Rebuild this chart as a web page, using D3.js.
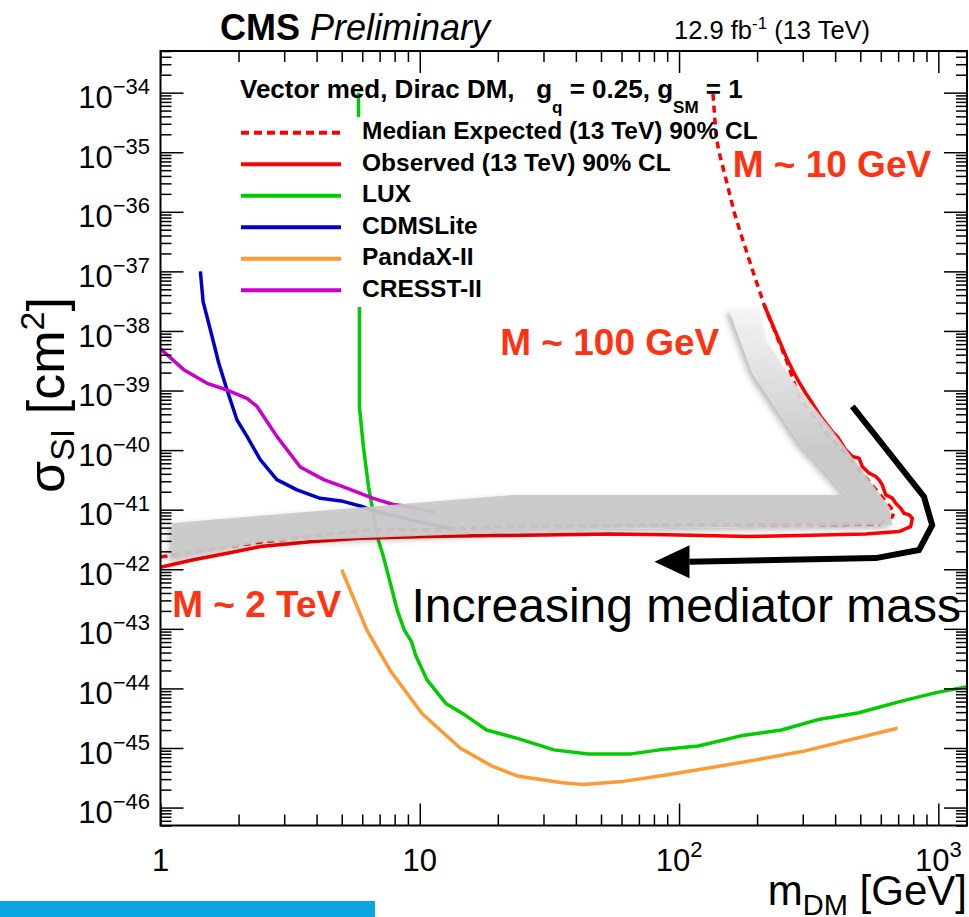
<!DOCTYPE html>
<html>
<head>
<meta charset="utf-8">
<script src="https://cdn.jsdelivr.net/npm/d3@7"></script>
<style>
  body { margin: 0; background: #fff; }
  svg { display: block; font-family: 'Liberation Sans', Arial, Helvetica, sans-serif; }
</style>
</head>
<body>
<svg id="chart" width="969" height="917"></svg>
<script>
// all curves: [m_DM in GeV, sigma_SI in cm^2]
const observed = [
  [1.0, 1.08e-42], [1.34, 1.44e-42], [1.81, 1.86e-42], [2.43, 2.4e-42], [3.78, 2.9e-42],
  [5.89, 3.3e-42], [10.6, 3.55e-42], [19.2, 3.67e-42], [34.6, 3.8e-42], [54, 3.9e-42],
  [89, 3.8e-42], [187, 3.55e-42], [291, 3.67e-42], [525, 3.9e-42], [705, 4.3e-42],
  [782, 5.2e-42], [794, 7.2e-42], [771, 8.2e-42], [737, 8.7e-42], [716, 1.06e-41],
  [685, 1.28e-41], [665, 1.56e-41], [627, 1.77e-41], [608, 2.6e-41], [591, 3.16e-41],
  [574, 3.6e-41], [541, 4.1e-41], [509, 5.3e-41], [495, 7.3e-41], [466, 7.8e-41],
  [440, 1.0e-40], [408, 1.68e-40], [390, 2.04e-40], [352, 3.65e-40], [327, 6.1e-40],
  [308, 9.0e-40], [290, 1.4e-39], [278, 1.95e-39], [262, 3.27e-39], [240, 8.0e-39],
  [213, 2.73e-38]
]
const expected = [
  [1.0, 1.61e-42], [2.49, 2.9e-42], [6.43, 4.6e-42], [12, 4.6e-42], [20.4, 5.2e-42],
  [84, 5.5e-42], [591, 5.7e-42], [665, 7.6e-42], [675, 9.3e-42], [495, 4.7e-41],
  [414, 1.15e-40], [368, 1.92e-40], [347, 2.83e-40], [291, 7.4e-40], [262, 2.9e-39],
  [213, 2.73e-38], [192, 1.05e-37], [176, 3.4e-37], [163.5, 9.5e-37], [152, 3.4e-36],
  [143, 9.6e-36], [139, 1.83e-35], [134.8, 1.11e-34]
]
const lux = [
  [5.80, 1.0e-34], [5.85, 2.6e-38], [5.85, 5.4e-40], [6.06, 1.15e-40], [6.34, 2.45e-41],
  [6.62, 8.7e-42], [6.92, 3.1e-42], [7.24, 1.63e-42], [7.76, 5.1e-43], [8.18, 2.08e-43],
  [8.71, 9.6e-44], [9.29, 6.1e-44], [9.63, 3.65e-44], [10.66, 1.39e-44], [12.6, 5.6e-45],
  [14.9, 3.6e-45], [18.1, 2.0e-45], [23.8, 1.45e-45], [32.9, 9.3e-46], [44.7, 7.96e-46],
  [65.3, 7.96e-46], [84.1, 9.3e-46], [118.6, 1.08e-45], [173, 1.6e-45], [248, 2.0e-45],
  [344, 3.0e-45], [494, 3.9e-45], [709, 6.0e-45], [980, 8.5e-45], [1300, 1.07e-44]
]
const cdmsLite = [
  [1.425, 1.0e-37], [1.44, 6.0e-38], [1.46, 3.1e-38], [1.557, 1.05e-38], [1.677, 2.9e-39],
  [1.806, 1.02e-39], [1.973, 3.2e-40], [2.156, 1.7e-40], [2.425, 6.9e-41], [2.81, 3.2e-41],
  [3.36, 2.15e-41], [4.13, 1.55e-41], [5.06, 1.38e-41], [6.04, 1.12e-41], [6.43, 1.0e-41],
  [9.5, 6.5e-42], [13.7, 4.7e-42]
]
const pandaX = [
  [5.0, 9.8e-43], [6.25, 9.5e-44], [7.75, 1.9e-44], [10.2, 3.8e-45], [14.3, 1.0e-45],
  [19.1, 4.9e-46], [23.8, 3.4e-46], [35.4, 2.6e-46], [42.3, 2.45e-46], [60.8, 2.75e-46],
  [90.4, 3.55e-46], [130, 4.6e-46], [193, 6.2e-46], [298, 8.7e-46], [459, 1.38e-45],
  [696, 2.14e-45]
]
const cresst = [
  [1.0, 5.0e-39], [1.229, 2.24e-39], [1.512, 1.32e-39], [1.806, 1.02e-39], [2.156, 7.4e-40],
  [2.356, 5.4e-40], [2.81, 1.7e-40], [3.46, 5.2e-41], [4.26, 3.2e-41], [5.23, 2.3e-41],
  [6.62, 1.55e-41], [7.9, 1.22e-41], [8.6, 1.17e-41], [11.5, 9.0e-42]
]

const legendLabels = ['Median Expected (13 TeV) 90% CL', 'Observed (13 TeV) 90% CL', 'LUX', 'CDMSLite', 'PandaX-II', 'CRESST-II']

const xTickValues = [1, 10, 100, 1000]
const xTickLabels = [['1', ''], ['10', ''], ['10', '2'], ['10', '3']]
const yTickExponents = d3.range(-46, -33)

// hand drawn overlay from the slide, in data units
const bandOutline = [
  [1.11, 1.44e-42], [2.49, 2.9e-42], [54, 4.8e-42], [663, 5.5e-42], [651, 1.07e-41],
  [389, 2.18e-40], [273, 1.5e-39], [216, 7.1e-39], [204, 2.45e-38], [156, 2.24e-38],
  [161, 1.53e-38], [192, 1.95e-39], [290.7, 1.3e-40], [440, 1.77e-41], [22.8, 1.77e-41],
  [1.11, 6.0e-42]
]
const arrowPath = [[466, 5.4e-40], [880, 1.66e-41], [947, 5.5e-42], [842, 2.1e-42], [574, 1.54e-42], [109.6, 1.34e-42]]
const arrowTip = [80.4, 1.34e-42]
const massLabels = [
  { text: 'M ~ 10 GeV', at: [161, 3.85e-36], anchor: 'start' },
  { text: 'M ~ 100 GeV', at: [143, 4.0e-39], anchor: 'end' },
  { text: 'M ~ 2 TeV', at: [1.11, 1.6e-43], anchor: 'start' }
]
const arrowText = { text: 'Increasing mediator mass', at: [9.29, 1.32e-43] }

const plot = { left: 160.5, right: 967, top: 51, bottom: 825.5 }
const svg = d3.select('#chart')

const x = d3.scaleLog().domain([1, 1290]).range([plot.left, plot.right])
const y = d3.scaleLog().domain([5e-47, 5e-34]).range([plot.bottom, plot.top])
const line = d3.line().x(d => x(d[0])).y(d => y(d[1]))

const defs = svg.append('defs')
defs.append('clipPath').attr('id', 'clip').append('rect')
  .attr('x', plot.left).attr('y', plot.top)
  .attr('width', plot.right - plot.left).attr('height', plot.bottom - plot.top)

const grad = defs.append('linearGradient').attr('id', 'bandFill')
  .attr('gradientUnits', 'userSpaceOnUse')
  .attr('x1', 0).attr('x2', 0).attr('y1', y(2.4e-38)).attr('y2', y(1e-40))
grad.append('stop').attr('offset', 0).attr('stop-color', '#f6f6f6')
grad.append('stop').attr('offset', 1).attr('stop-color', '#c9c9c9')

const shadow = defs.append('filter').attr('id', 'shadow')
  .attr('x', '-10%').attr('y', '-10%').attr('width', '120%').attr('height', '130%')
shadow.append('feDropShadow').attr('dx', -3).attr('dy', 3)
  .attr('stdDeviation', 3).attr('flood-color', '#000').attr('flood-opacity', 0.3)

// slide strip at the bottom
svg.append('rect').attr('x', 0).attr('y', 901).attr('width', 375).attr('height', 16).attr('fill', '#0ba6e1')

const series = [
  { data: lux, color: '#00cc00' },
  { data: cdmsLite, color: '#0000cc' },
  { data: cresst, color: '#cc00cc' },
  { data: pandaX, color: '#ff9933' },
  { data: expected, color: '#ff0000', dash: '7,5' },
  { data: observed, color: '#ff0000' }
]
const curves = svg.append('g').attr('clip-path', 'url(#clip)')
curves.selectAll('path').data(series).join('path')
  .attr('d', d => line(d.data))
  .attr('fill', 'none')
  .attr('stroke', d => d.color)
  .attr('stroke-width', 3.5)
  .attr('stroke-linejoin', 'round')
  .attr('stroke-dasharray', d => d.dash || null)

// legend (white box hides what runs behind it)
const legendItems = [
  { label: legendLabels[0], color: '#ff0000', dash: '8,5' },
  { label: legendLabels[1], color: '#ff0000' },
  { label: legendLabels[2], color: '#00cc00' },
  { label: legendLabels[3], color: '#0000cc' },
  { label: legendLabels[4], color: '#ff9933' },
  { label: legendLabels[5], color: '#cc00cc' }
]
svg.append('rect').attr('x', 232).attr('y', 117).attr('width', 472).attr('height', 190).attr('fill', '#fff')
const legend = svg.append('g')
const rows = legend.selectAll('g').data(legendItems).join('g')
  .attr('transform', (d, i) => `translate(0,${132.7 + i * 31.5})`)
rows.append('line').attr('x1', 241).attr('x2', 341).attr('y1', 0).attr('y2', 0)
  .attr('stroke', d => d.color).attr('stroke-width', 4)
  .attr('stroke-dasharray', d => d.dash || null)
rows.append('text').attr('x', 362).attr('y', 6.5)
  .attr('font-size', 24.5).attr('font-weight', 'bold')
  .text(d => d.label)

const title = svg.append('text').attr('x', 240).attr('y', 98.3)
  .attr('font-size', 26).attr('font-weight', 'bold')
title.append('tspan').text('Vector med, Dirac DM,\u00a0\u00a0\u00a0g')
title.append('tspan').attr('font-size', 17).attr('dy', 15).text('q')
title.append('tspan').attr('dy', -15).text(' = 0.25, g')
title.append('tspan').attr('font-size', 17).attr('dy', 15).text('SM')
title.append('tspan').attr('dy', -15).text(' = 1')

// grey band
svg.append('path')
  .attr('d', line(bandOutline) + 'Z')
  .attr('fill', 'url(#bandFill)')
  .attr('fill-opacity', 0.93)
  .attr('filter', 'url(#shadow)')

// black arrow
svg.append('path')
  .attr('d', line(arrowPath))
  .attr('fill', 'none').attr('stroke', '#000')
  .attr('stroke-width', 6).attr('stroke-linejoin', 'miter')
const tipX = x(arrowTip[0])
const tipY = y(arrowTip[1])
svg.append('path')
  .attr('d', `M${tipX},${tipY}L${tipX + 35},${tipY - 16.5}L${tipX + 35},${tipY + 16.5}Z`)
  .attr('fill', '#000')

svg.selectAll('text.mass').data(massLabels).join('text')
  .attr('class', 'mass')
  .attr('x', d => x(d.at[0])).attr('y', d => y(d.at[1]))
  .attr('text-anchor', d => d.anchor)
  .attr('font-size', 37).attr('font-weight', 'bold').attr('fill', '#ff3311')
  .text(d => d.text)

svg.append('text')
  .attr('x', x(arrowText.at[0])).attr('y', y(arrowText.at[1]))
  .attr('font-size', 48)
  .text(arrowText.text)

// frame and ticks, ROOT style (inward on all four sides)
const xMinor = xTickValues.flatMap(d => d3.range(2, 10).map(k => k * d)).filter(v => v <= 1290)
const yMajor = yTickExponents.map(e => Math.pow(10, e))
const yMinor = d3.range(-47, -33).flatMap(e => d3.range(2, 10).map(k => k * Math.pow(10, e)))
  .filter(v => v >= 5e-47 && v <= 5e-34)

const addAxis = (axis, tx, ty) => {
  svg.append('g').attr('transform', `translate(${tx},${ty})`)
    .call(axis.tickFormat('').tickSizeOuter(0))
    .call(g => g.select('.domain').remove())
    .selectAll('line').attr('stroke', '#000').attr('stroke-width', 1.5)
}
addAxis(d3.axisBottom(x).tickValues(xTickValues).tickSizeInner(-22), 0, plot.bottom)
addAxis(d3.axisBottom(x).tickValues(xMinor).tickSizeInner(-11), 0, plot.bottom)
addAxis(d3.axisTop(x).tickValues(xTickValues).tickSizeInner(-22), 0, plot.top)
addAxis(d3.axisTop(x).tickValues(xMinor).tickSizeInner(-11), 0, plot.top)
addAxis(d3.axisLeft(y).tickValues(yMajor).tickSizeInner(-23), plot.left, 0)
addAxis(d3.axisLeft(y).tickValues(yMinor).tickSizeInner(-11), plot.left, 0)
addAxis(d3.axisRight(y).tickValues(yMajor).tickSizeInner(-23), plot.right, 0)
addAxis(d3.axisRight(y).tickValues(yMinor).tickSizeInner(-11), plot.right, 0)

svg.append('rect')
  .attr('x', plot.left).attr('y', plot.top)
  .attr('width', plot.right - plot.left).attr('height', plot.bottom - plot.top)
  .attr('fill', 'none').attr('stroke', '#000').attr('stroke-width', 2)

// tick labels
const yLabels = svg.selectAll('text.ylab').data(yTickExponents).join('text')
  .attr('class', 'ylab')
  .attr('x', 150).attr('y', d => y(Math.pow(10, d)) + 15.6)
  .attr('text-anchor', 'end').attr('font-size', 31)
yLabels.append('tspan').text('10')
yLabels.append('tspan').attr('font-size', 22).attr('dy', -14).text(d => '\u2212' + Math.abs(d))

const xLabels = svg.selectAll('text.xlab').data(xTickValues).join('text')
  .attr('class', 'xlab')
  .attr('x', d => x(d)).attr('y', 871)
  .attr('text-anchor', 'middle').attr('font-size', 31)
xLabels.append('tspan').text((d, i) => xTickLabels[i][0])
xLabels.append('tspan').attr('font-size', 22).attr('dy', -14).text((d, i) => xTickLabels[i][1])

// axis titles
const xTitle = svg.append('text').attr('x', 967).attr('y', 905)
  .attr('text-anchor', 'end').attr('font-size', 42)
xTitle.append('tspan').text('m')
xTitle.append('tspan').attr('font-size', 29).attr('dy', 10).text('DM')
xTitle.append('tspan').attr('dy', -10).text(' [GeV]')

const yTitle = svg.append('text')
  .attr('transform', 'translate(64,395) rotate(-90)')
  .attr('text-anchor', 'middle').attr('font-size', 52)
yTitle.append('tspan').text('\u03c3')
yTitle.append('tspan').attr('font-size', 34).attr('dy', 10).text('SI')
yTitle.append('tspan').attr('dy', -10).text(' [cm')
yTitle.append('tspan').attr('font-size', 34).attr('dy', -20).text('2')
yTitle.append('tspan').attr('dy', 20).text(']')

// header
const head = svg.append('text').attr('x', 220).attr('y', 40).attr('font-size', 36)
head.append('tspan').attr('font-weight', 'bold').text('CMS')
head.append('tspan').attr('font-style', 'italic').text(' Preliminary')

const lumi = svg.append('text').attr('x', 674).attr('y', 39).attr('font-size', 25.5)
lumi.append('tspan').text('12.9 fb')
lumi.append('tspan').attr('font-size', 17).attr('dy', -10).text('-1')
lumi.append('tspan').attr('dy', 10).text(' (13 TeV)')
</script>
</body>
</html>
